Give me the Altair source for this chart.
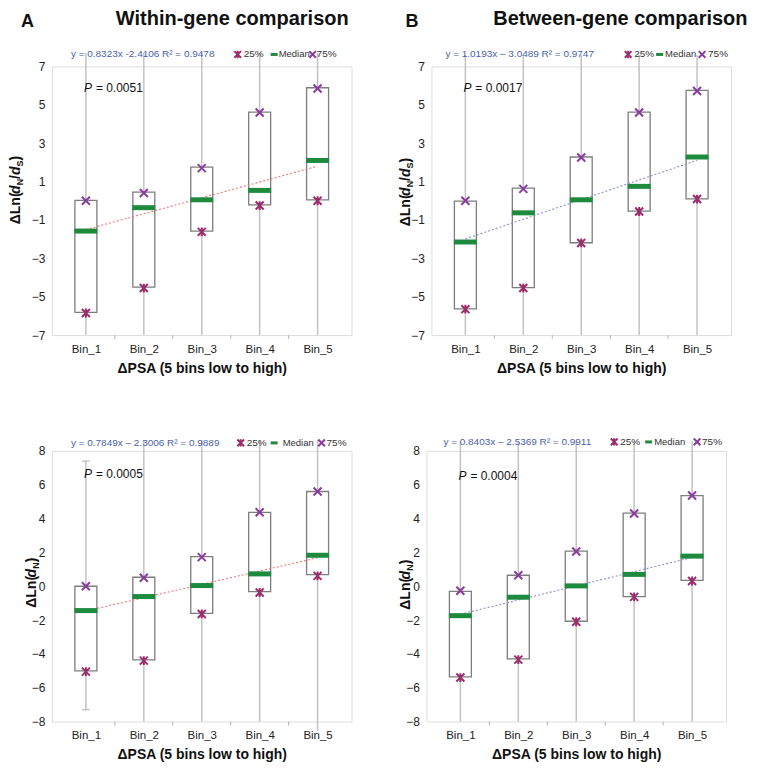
import altair as alt
import pandas as pd

FONT = "Liberation Sans"

bins = ["Bin_1", "Bin_2", "Bin_3", "Bin_4", "Bin_5"]
pos = [1, 2, 3, 4, 5]
gaps = [1.5, 2.5, 3.5, 4.5]

# ---- A top: within-gene, dLn(dN/dS) ----
a1_q1 = [-5.82, -4.50, -1.58, -0.21, 0.05]
a1_q3 = [0.02, 0.45, 1.75, 4.62, 5.89]
a1_med = [-1.58, -0.36, 0.05, 0.54, 2.10]
a1_p25 = [-5.85, -4.55, -1.62, -0.25, 0.00]
a1_p75 = [0.00, 0.40, 1.70, 4.60, 5.85]
a1_wlo = [-7.0, -7.0, -7.0, -7.0, -7.0]
a1_whi = [7.7, 7.7, 7.7, 7.7, 7.7]

# ---- B top: between-gene, dLn(dN/dS) ----
b1_q1 = [-5.63, -4.53, -2.19, -0.54, 0.10]
b1_q3 = [-0.02, 0.66, 2.28, 4.62, 5.75]
b1_med = [-2.15, -0.63, 0.05, 0.75, 2.28]
b1_p25 = [-5.65, -4.55, -2.20, -0.56, 0.09]
b1_p75 = [0.00, 0.62, 2.25, 4.60, 5.72]
b1_wlo = [-7.0, -7.0, -7.0, -7.0, -7.0]
b1_whi = [7.6, 7.6, 7.6, 7.6, 7.6]

# ---- A bottom: within-gene, dLn(dN) ----
a2_q1 = [-5.00, -4.35, -1.60, -0.32, 0.69]
a2_q3 = [0.00, 0.53, 1.75, 4.37, 5.60]
a2_med = [-1.44, -0.61, 0.04, 0.73, 1.83]
a2_p25 = [-5.05, -4.40, -1.64, -0.37, 0.61]
a2_p75 = [0.00, 0.50, 1.72, 4.37, 5.60]
a2_wlo = [-7.3, -8.0, -8.0, -8.0, -8.55]
a2_whi = [7.4, 8.65, 8.65, 8.65, 8.65]
a2_cap_pos = [1, 1]
a2_cap_val = [7.4, -7.3]

# ---- B bottom: between-gene, dLn(dN) ----
b2_q1 = [-5.36, -4.30, -2.07, -0.61, 0.35]
b2_q3 = [-0.31, 0.65, 2.07, 4.32, 5.36]
b2_med = [-1.74, -0.65, 0.02, 0.70, 1.78]
b2_p25 = [-5.40, -4.34, -2.10, -0.63, 0.31]
b2_p75 = [-0.27, 0.65, 2.05, 4.30, 5.36]
b2_wlo = [-8.0, -8.0, -8.0, -8.0, -8.0]
b2_whi = [8.55, 8.55, 8.55, 8.55, 8.55]

yvals_top = [-7, -5, -3, -1, 1, 3, 5, 7]
yvals_bot = [-8, -6, -4, -2, 0, 2, 4, 6, 8]

eq_a1 = "y = 0.8323x -2.4106  R² = 0.9478"
eq_b1 = "y = 1.0193x – 3.0489  R² = 0.9747"
eq_a2 = "y = 0.7849x –  2.3006  R² = 0.9889"
eq_b2 = "y = 0.8403x – 2.5369  R² = 0.9911"
p_a1, p_b1, p_a2, p_b2 = "0.0051", "0.0017", "0.0005", "0.0004"

C25 = "#9b2d6b"
C75 = "#8a3c9e"
CMED = "#1e8a3e"
CROSS = "M-1,-1L1,1M-1,1L1,-1"
STAR = "M-1,-1L1,1M-1,1L1,-1M0,-1.1L0,1.1"

one = pd.DataFrame({"k": [0]})


def txt(s, x, y, size, color="#222222", weight="normal", style="normal",
        align="left", baseline="middle", angle=0):
    return alt.Chart(pd.DataFrame({"t": [s]})).mark_text(
        align=align, baseline=baseline, fontSize=size, font=FONT,
        fontWeight=weight, fontStyle=style, color=color, angle=angle
    ).encode(x=alt.value(x), y=alt.value(y), text="t:N")


def sym(shape, color, x, y, size=45):
    return alt.Chart(one).mark_point(shape=shape, size=size, color=color,
                                     strokeWidth=2, filled=False, opacity=1).encode(
        x=alt.value(x), y=alt.value(y))


def ytitle(x, y0, with_ds):
    parts = [("ΔLn(", 14, "normal", 0, 0.0)]
    o = 30.3
    parts.append(("d", 14, "italic", 0, o)); o += 8.6
    parts.append(("N", 9, "normal", 3, o)); o += 6.5
    if with_ds:
        parts.append(("/", 14, "normal", 0, o)); o += 3.9
        parts.append(("d", 14, "italic", 0, o)); o += 8.6
        parts.append(("S", 9, "normal", 3, o)); o += 6.0
    parts.append((")", 14, "normal", 0, o))
    layers = []
    for s, fs, st, dx, off in parts:
        layers.append(txt(s, x + dx, y0 - off, fs, color="#111111", weight="bold",
                          style=st, align="left", baseline="alphabetic", angle=270))
    return layers


def panel(q1, q3, med, p25, p75, wlo, whi, h, ydom, yvals, tcolor, eq,
          eqy, leg, ptxt, pxy, ytx, yty, with_ds, header=None, caps=None):
    df = pd.DataFrame({"pos": pos, "bin": bins, "q1": q1, "q3": q3, "med": med,
                       "p25": p25, "p75": p75, "wlo": wlo, "whi": whi})
    labexpr = "['" + "','".join(bins) + "'][datum.value - 1]"
    xenc = alt.X("pos:Q", scale=alt.Scale(domain=[0.5, 5.5], nice=False, zero=False),
                 axis=alt.Axis(values=pos, labelExpr=labexpr, title="ΔPSA (5 bins low to high)",
                               ticks=False, domain=False, grid=False, labelPadding=8,
                               labelFontSize=11.5, labelColor="#222222", labelOverlap=False,
                               tickCount=20,
                               titleFontSize=14, titleFontWeight="bold", titleColor="#111111",
                               titlePadding=7, labelFont=FONT, titleFont=FONT))
    yscale = alt.Scale(domain=ydom, nice=False, zero=False)
    yenc = alt.Y("wlo:Q", scale=yscale,
                 axis=alt.Axis(values=yvals, tickCount=20, format="d", title=None, ticks=False,
                               domain=False, grid=False,
                               labelFontSize=12, labelColor="#222222", labelPadding=7,
                               labelOverlap=False, labelFont=FONT))
    base = alt.Chart(df)
    layers = []
    layers.append(base.mark_rule(color="#c2c2c2", strokeWidth=1.5).encode(
        x=xenc, y=yenc, y2="whi:Q"))
    if caps is not None:
        cdf = pd.DataFrame({"pos": caps[0], "v": caps[1]})
        layers.append(alt.Chart(cdf).mark_tick(orient="horizontal", size=8, thickness=1.2,
                                               color="#a0a0a0").encode(
            x="pos:Q", y="v:Q"))
    layers.append(alt.Chart(pd.DataFrame({"g": gaps})).mark_rule(
        color="#b5b5b5", strokeWidth=1).encode(x="g:Q", y=alt.value(h), y2=alt.value(h + 4)))
    layers.append(base.mark_bar(size=22, fill="white", stroke="#7d7d7d",
                                strokeWidth=1.3).encode(x="pos:Q", y="q1:Q", y2="q3:Q"))
    layers.append(base.transform_regression("pos", "med").mark_line(
        color=tcolor, strokeDash=[2, 2], strokeWidth=1.1).encode(x="pos:Q", y="med:Q"))
    layers.append(base.mark_tick(orient="horizontal", size=23, thickness=5,
                                 color=CMED, opacity=1).encode(x="pos:Q", y="med:Q"))
    layers.append(base.mark_point(shape=STAR, size=64, color=C25, strokeWidth=2,
                                  filled=False, opacity=1).encode(x="pos:Q", y="p25:Q"))
    layers.append(base.mark_point(shape=CROSS, size=64, color=C75, strokeWidth=2,
                                  filled=False, opacity=1).encode(x="pos:Q", y="p75:Q"))
    # P value
    layers.append(txt("P", pxy[0], pxy[1], 12, color="#111111", style="italic"))
    layers.append(txt("= " + ptxt, pxy[0] + 12, pxy[1], 12, color="#111111"))
    # equation + legend
    layers.append(txt(eq, leg[0], eqy, 10, color="#4a5fae"))
    layers.append(sym(STAR, C25, leg[1], eqy))
    layers.append(txt("25%", leg[2], eqy, 10, color="#333333"))
    layers.append(alt.Chart(one).mark_rule(color=CMED, strokeWidth=3).encode(
        x=alt.value(leg[3]), x2=alt.value(leg[3] + 7), y=alt.value(eqy)))
    layers.append(txt("Median", leg[4], eqy, 9.5, color="#333333"))
    layers.append(sym(CROSS, C75, leg[5], eqy))
    layers.append(txt("75%", leg[6], eqy, 10, color="#333333"))
    layers += ytitle(ytx, yty, with_ds)
    if header is not None:
        letter, lx, title, tx = header
        layers.append(txt(letter, lx, -39, 18, color="#111111", weight="bold",
                          baseline="alphabetic"))
        layers.append(txt(title, tx, -41, 20, color="#111111", weight="bold",
                          baseline="alphabetic"))
    return alt.layer(*layers).properties(width=300, height=h)


p_a1c = panel(a1_q1, a1_q3, a1_med, a1_p25, a1_p75, a1_wlo, a1_whi, 269, [-7, 7], yvals_top,
              "#e8797a", eq_a1, -12, [19, 186, 192, 219, 227, 261, 265], p_a1, (32, 22),
              -32, 158, True, header=("A", -31, "Within-gene comparison", 64))
p_b1c = panel(b1_q1, b1_q3, b1_med, b1_p25, b1_p75, b1_wlo, b1_whi, 269, [-7, 7], yvals_top,
              "#8a8fcc", eq_b1, -12, [14, 197, 203, 225, 234, 271, 277], p_b1, (32, 22),
              -21, 160, True, header=("B", -26, "Between-gene comparison", 62))
p_a2c = panel(a2_q1, a2_q3, a2_med, a2_p25, a2_p75, a2_wlo, a2_whi, 271, [-8, 8], yvals_bot,
              "#e8797a", eq_a2, -8, [19, 189, 195, 219, 231, 270, 275], p_a2, (32, 23),
              -16, 157, False, caps=(a2_cap_pos, a2_cap_val))
p_b2c = panel(b2_q1, b2_q3, b2_med, b2_p25, b2_p75, b2_wlo, b2_whi, 271, [-8, 8], yvals_bot,
              "#8a8fcc", eq_b2, -9, [17, 188, 194, 219, 228, 271, 276], p_b2, (32, 25),
              -16, 159, False)

chart = alt.vconcat(
    alt.hconcat(p_a1c, p_b1c, spacing=46),
    alt.hconcat(p_a2c, p_b2c, spacing=46),
    spacing=57,
).properties(padding={"left": 0, "top": 0, "right": 0, "bottom": 0}).configure_view(
    stroke="#c8c8c8", strokeWidth=1
).configure(background="white")

chart.save("out.html", embed_options={"renderer": "svg", "actions": False})
